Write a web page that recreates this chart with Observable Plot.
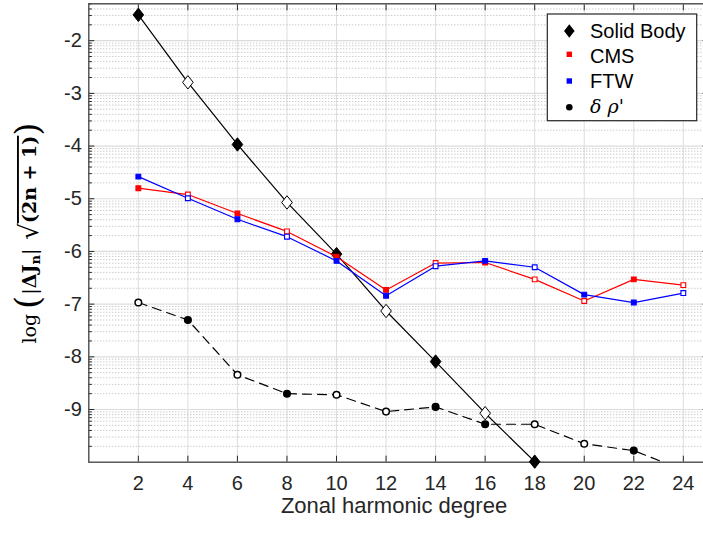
<!DOCTYPE html>
<html>
<head>
<meta charset="utf-8">
<script src="https://cdn.jsdelivr.net/npm/d3@7"></script>
<script src="https://cdn.jsdelivr.net/npm/@observablehq/plot@0.6"></script>
<style>
  html, body { margin: 0; padding: 0; background: #fff; overflow: hidden; width: 703px; height: 533px; }
  #chart { position: relative; width: 720px; }
</style>
</head>
<body>
<div id="chart"></div>
<script>
// ---- data (log10 of |ΔJn| sqrt(2n+1)) ----
const degrees = [2, 4, 6, 8, 10, 12, 14, 16, 18, 20, 22, 24];
const xTicks = [2, 4, 6, 8, 10, 12, 14, 16, 18, 20, 22, 24];
const yTickExponents = [-9, -8, -7, -6, -5, -4, -3, -2];

const solidBody       = [-1.51, -2.79, -3.97, -5.07, -6.05, -7.13, -8.09, -9.07, -9.99];
const solidBodyFilled = [1, 0, 1, 0, 1, 0, 1, 0, 1];

const cms       = [-4.80, -4.92, -5.28, -5.62, -6.10, -6.73, -6.22, -6.21, -6.53, -6.94, -6.53, -6.64];
const cmsFilled = [1, 0, 1, 0, 1, 1, 0, 1, 0, 0, 1, 0];

const ftw       = [-4.58, -4.99, -5.39, -5.72, -6.18, -6.84, -6.28, -6.18, -6.30, -6.82, -6.97, -6.79];
const ftwFilled = [1, 0, 1, 0, 1, 1, 0, 1, 0, 1, 1, 0];

const deltaRho       = [-6.97, -7.30, -8.34, -8.70, -8.72, -9.04, -8.95, -9.28, -9.28, -9.65, -9.78, -10.15];
const deltaRhoFilled = [0, 1, 0, 1, 0, 0, 1, 1, 0, 0, 1, 1];

const seriesNames = ["Solid Body", "CMS", "FTW", "δ ρ'"];

// ---- build rows ----
const rows = (vals, filled) => vals.map((v, i) => ({n: degrees[i], y: Math.pow(10, v), filled: !!filled[i]}));
const sbRows = rows(solidBody, solidBodyFilled);
const cmsRows = rows(cms, cmsFilled);
const ftwRows = rows(ftw, ftwFilled);
const drRows = rows(deltaRho, deltaRhoFilled);

const yMajor = yTickExponents.map(e => Math.pow(10, e));
const yMinor = [];
for (let e = -10; e <= -2; e++) for (let k = 2; k <= 9; k++) {
  const v = k * Math.pow(10, e);
  if (v < Math.pow(10, -1.3)) yMinor.push(v);
}

const diamond = {
  draw(ctx) { const h = 6.7, w = 5.3; ctx.moveTo(0, -h); ctx.lineTo(w, 0); ctx.lineTo(0, h); ctx.lineTo(-w, 0); ctx.closePath(); }
};
const AX = "#262626";

const plot = Plot.plot({
  width: 720,
  height: 533,
  marginLeft: 88.3,
  marginRight: 12.4,
  marginTop: 3.3,
  marginBottom: 71.3,
  style: {fontFamily: "'Liberation Sans', Arial, sans-serif", fontSize: "20px", color: AX, background: "#fff"},
  x: {domain: [0, 25]},
  y: {type: "log", domain: [1e-10, Math.pow(10, -1.3)]},
  marks: [
    Plot.gridX(xTicks, {stroke: "#dedede", strokeOpacity: 1, strokeWidth: 1}),
    Plot.gridY(yMinor, {stroke: "#b5b5b5", strokeOpacity: 1, strokeWidth: 1, strokeDasharray: "1,2"}),
    Plot.gridY(yMajor, {stroke: "#dcdcdc", strokeOpacity: 1, strokeWidth: 1.2}),
    // axes: labels
    Plot.axisX(xTicks, {anchor: "bottom", tickSize: 0, tickPadding: 13.5, label: null, fill: AX, fontSize: 20}),
    Plot.axisY(yMajor, {anchor: "left", tickSize: 0, tickPadding: 7, label: null, fill: AX, fontSize: 20,
      tickFormat: d => String(Math.round(Math.log10(d)))}),
    // inward ticks
    Plot.axisX(xTicks, {anchor: "bottom", tickSize: -6, label: null, tickFormat: () => "", stroke: AX}),
    Plot.axisX(xTicks, {anchor: "top", tickSize: -6, label: null, tickFormat: () => "", stroke: AX}),
    Plot.axisY(yMajor, {anchor: "left", tickSize: -6, label: null, tickFormat: () => "", stroke: AX}),
    Plot.axisY(yMinor, {anchor: "left", tickSize: -3.5, label: null, tickFormat: () => "", stroke: AX}),
    Plot.axisY(yMajor, {anchor: "right", tickSize: -6, label: null, tickFormat: () => "", stroke: AX}),
    Plot.axisY(yMinor, {anchor: "right", tickSize: -3.5, label: null, tickFormat: () => "", stroke: AX}),
    Plot.frame({stroke: "#4d4d4d", strokeWidth: 1.4}),
    // series
    Plot.line(sbRows, {x: "n", y: "y", stroke: "#000", strokeWidth: 1.2, clip: true}),
    Plot.dot(sbRows, {x: "n", y: "y", symbol: diamond, stroke: "#000", strokeWidth: 1, fill: d => d.filled ? "#000" : "#fff"}),
    Plot.line(cmsRows, {x: "n", y: "y", stroke: "#ff0000", strokeWidth: 1.2, clip: true}),
    Plot.dot(cmsRows, {x: "n", y: "y", symbol: "square", r: 2.7, stroke: "#ff0000", strokeWidth: 1.1, fill: d => d.filled ? "#ff0000" : "#fff"}),
    Plot.line(ftwRows, {x: "n", y: "y", stroke: "#0000ff", strokeWidth: 1.2, clip: true}),
    Plot.dot(ftwRows, {x: "n", y: "y", symbol: "square", r: 2.7, stroke: "#0000ff", strokeWidth: 1.1, fill: d => d.filled ? "#0000ff" : "#fff"}),
    Plot.line(drRows, {x: "n", y: "y", stroke: "#000", strokeWidth: 1.2, strokeDasharray: "9,6", clip: true}),
    Plot.dot(drRows, {x: "n", y: "y", r: 3.3, stroke: "#000", strokeWidth: 1.5, fill: d => d.filled ? "#000" : "#fff", clip: true})
  ]
});
document.getElementById("chart").appendChild(plot);

// ---- x label ----
const svg = d3.select(plot);
svg.append("text")
  .attr("x", 394).attr("y", 513)
  .attr("text-anchor", "middle")
  .attr("fill", AX)
  .style("font-family", "'Liberation Sans', Arial, sans-serif")
  .style("font-size", "22px")
  .text("Zonal harmonic degree");

// ---- y label (LaTeX-like) ----
const yl = svg.append("text")
  .attr("transform", "translate(36,233) rotate(-90)")
  .attr("text-anchor", "middle")
  .attr("fill", "#000")
  .style("font-family", "'DejaVu Serif', 'Liberation Serif', serif")
  .style("font-size", "19px");
yl.append("tspan").text("log");
yl.append("tspan").attr("dx", 5).style("font-size", "34px").style("font-weight", "300").attr("dy", 3).text("(");
yl.append("tspan").attr("dy", -3).attr("dx", 1).text("|");
yl.append("tspan").style("font-weight", "bold").text("ΔJ");
yl.append("tspan").style("font-weight", "bold").style("font-size", "13px").attr("dy", 4).text("n");
yl.append("tspan").attr("dy", -4).text("|");
yl.append("tspan").attr("dx", 9).style("font-size", "26px").attr("dy", 2).text("√");
yl.append("tspan").attr("dy", -2).style("font-weight", "bold").style("text-decoration", "overline").text("(2n + 1)");
yl.append("tspan").style("font-size", "34px").style("font-weight", "300").attr("dy", 3).text(")");

// ---- legend ----
const lg = svg.append("g").attr("text-anchor", "start");
lg.append("rect").attr("x", 547.3).attr("y", 14).attr("width", 149.4).attr("height", 106.7)
  .attr("fill", "#fff").attr("stroke", AX).attr("stroke-width", 1.2);
const baselines = [38.3, 63.3, 88.3, 113.3];
const mx = 569.3;
// markers
lg.append("path").attr("d", `M${mx},${baselines[0] - 14}L${mx + 5.3},${baselines[0] - 7.3}L${mx},${baselines[0] - 0.6}L${mx - 5.3},${baselines[0] - 7.3}Z`).attr("fill", "#000");
lg.append("rect").attr("x", mx - 2.7).attr("y", baselines[1] - 9 - 2.7).attr("width", 5.4).attr("height", 5.4).attr("fill", "#ff0000");
lg.append("rect").attr("x", mx - 2.7).attr("y", baselines[2] - 7.3 - 2.7).attr("width", 5.4).attr("height", 5.4).attr("fill", "#0000ff");
lg.append("circle").attr("cx", mx).attr("cy", baselines[3] - 6).attr("r", 3.3).attr("fill", "#000");
seriesNames.forEach((name, i) => {
  const t = lg.append("text").attr("x", 590).attr("y", baselines[i]).attr("fill", "#000")
    .attr("text-anchor", "start")
    .style("font-family", "'Liberation Sans', Arial, sans-serif").style("font-size", "20px");
  if (i === 3) {
    t.style("font-family", "'DejaVu Serif', 'Liberation Serif', serif").style("font-style", "italic").style("font-size", "19px");
  }
  t.text(name);
});
</script>
</body>
</html>
